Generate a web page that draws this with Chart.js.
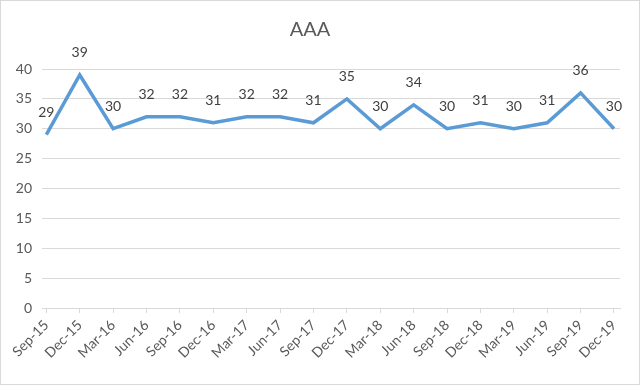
<!DOCTYPE html>
<html>
<head>
<meta charset="utf-8">
<script src="https://cdn.jsdelivr.net/npm/chart.js@4"></script>
<style>
  html, body { margin: 0; padding: 0; background: #ffffff; }
  #wrap { width: 640px; height: 385px; position: relative; }
</style>
</head>
<body>
<div id="wrap"><canvas id="c" width="640" height="385"></canvas></div>
<script>
const categories = ["Sep-15","Dec-15","Mar-16","Jun-16","Sep-16","Dec-16","Mar-17","Jun-17","Sep-17","Dec-17","Mar-18","Jun-18","Sep-18","Dec-18","Mar-19","Jun-19","Sep-19","Dec-19"];
const values = [29,39,30,32,32,31,32,32,31,35,30,34,30,31,30,31,36,30];
const yTicks = [0,5,10,15,20,25,30,35,40];
const chartTitle = "AAA";

const FONT = "Lato, 'Open Sans', sans-serif";

const bgPlugin = {
  id: 'bg',
  beforeDraw(chart) {
    const ctx = chart.ctx;
    ctx.save();
    ctx.fillStyle = '#ffffff';
    ctx.fillRect(0, 0, chart.width, chart.height);
    ctx.strokeStyle = '#d9d9d9';
    ctx.lineWidth = 1;
    ctx.strokeRect(0.5, 0.5, chart.width - 1, chart.height - 1);
    ctx.restore();
  }
};

const labelPlugin = {
  id: 'valLabels',
  afterDatasetsDraw(chart) {
    const ctx = chart.ctx;
    const meta = chart.getDatasetMeta(0);
    ctx.save();
    ctx.font = "14px " + FONT;
    ctx.fillStyle = '#404040';
    ctx.textAlign = 'center';
    ctx.textBaseline = 'middle';
    meta.data.forEach((pt, i) => {
      ctx.fillText(String(values[i]), pt.x, pt.y - 22);
    });
    ctx.restore();
  }
};

new Chart(document.getElementById('c'), {
  type: 'line',
  data: {
    datasets: [{
      data: values.map((v, i) => ({ x: i, y: v })),
      borderColor: '#5B9BD5',
      borderWidth: 3.5,
      pointRadius: 0,
      tension: 0,
      fill: false,
      clip: false
    }]
  },
  options: {
    responsive: false,
    animation: false,
    layout: { padding: { left: 0, right: 20, top: 0, bottom: 0 } },
    plugins: {
      legend: { display: false },
      tooltip: { enabled: false },
      title: {
        display: true,
        text: chartTitle,
        color: '#595959',
        font: { family: FONT, size: 20, weight: 'normal' },
        padding: { top: 18, bottom: 27 }
      }
    },
    scales: {
      x: {
        type: 'linear',
        min: -0.13,
        max: 17.18,
        afterBuildTicks(scale) {
          scale.ticks = categories.map((c, i) => ({ value: i }));
        },
        afterFit(scale) { scale.height = 77; },
        grid: {
          display: true,
          drawOnChartArea: false,
          drawTicks: true,
          tickLength: 5,
          color: '#d9d9d9'
        },
        border: { display: true, color: '#d9d9d9' },
        ticks: {
          autoSkip: false,
          maxRotation: 45,
          minRotation: 45,
          padding: 4,
          color: '#595959',
          font: { family: FONT, size: 14 },
          callback: (v) => categories[Math.round(v)] ?? ''
        }
      },
      y: {
        min: 0,
        max: 40,
        afterBuildTicks(scale) {
          scale.ticks = yTicks.map(v => ({ value: v }));
        },
        afterFit(scale) { scale.width = 42; },
        grid: {
          color: '#d9d9d9',
          drawTicks: false
        },
        border: { display: false },
        ticks: {
          padding: 10,
          color: '#595959',
          font: { family: FONT, size: 14 }
        }
      }
    }
  },
  plugins: [bgPlugin, labelPlugin]
});
</script>
</body>
</html>
